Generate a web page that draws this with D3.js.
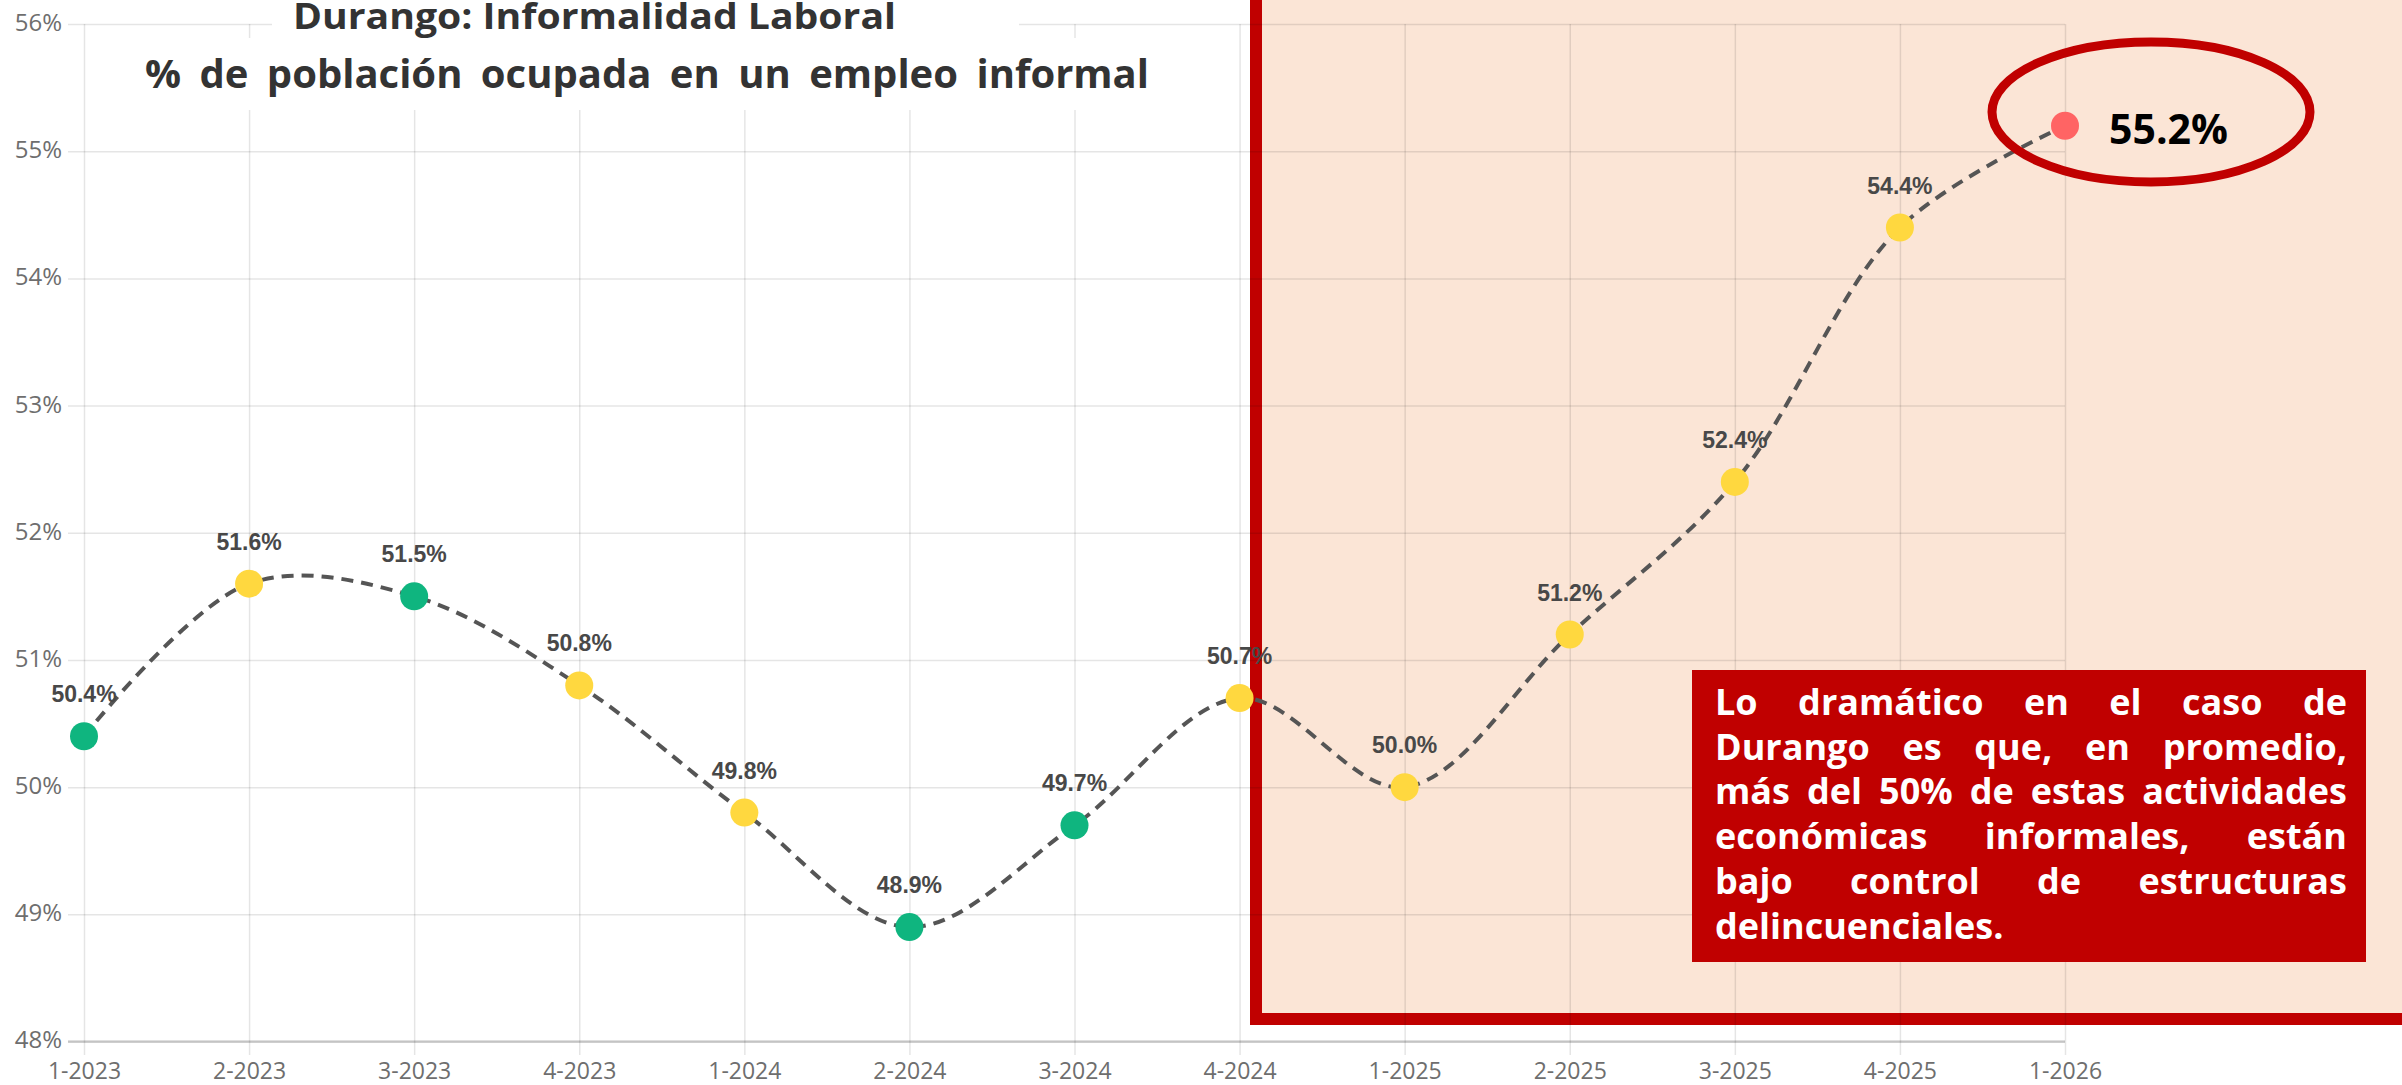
<!DOCTYPE html>
<html lang="es">
<head>
<meta charset="utf-8">
<title>Durango: Informalidad Laboral</title>
<script src="https://cdn.jsdelivr.net/npm/d3@7"></script>
<style>
  html, body { margin: 0; padding: 0; background: #fff; }
  svg { display: block; }
  .tick text { font-family: "Open Sans", sans-serif; font-size: 24px; fill: #6e6e6e; }
  .ejex .tick text { font-size: 23px; }
  .etiqueta { font-family: "Liberation Sans", Arial, sans-serif; font-weight: bold; font-size: 23px; fill: #484848; }
  .titulo { font-family: "Open Sans", sans-serif; font-weight: bold; font-size: 36px; fill: #333; }
  .subtitulo { font-size: 40px; }
  .nota { font-family: "Open Sans", sans-serif; font-weight: bold; font-size: 36px; fill: #fff; }
</style>
</head>
<body>
<div id="chart"></div>
<script>
// Trimestres y % de población ocupada en un empleo informal (Durango)
const trimestres = ["1-2023", "2-2023", "3-2023", "4-2023", "1-2024", "2-2024", "3-2024",
                    "4-2024", "1-2025", "2-2025", "3-2025", "4-2025", "1-2026"];
const informalidad = [50.4, 51.6, 51.5, 50.8, 49.8, 48.9, 49.7, 50.7, 50.0, 51.2, 52.4, 54.4, 55.2];
const grupo = ["verde", "amarillo", "verde", "amarillo", "amarillo", "verde", "verde",
               "amarillo", "amarillo", "amarillo", "amarillo", "amarillo", "rojo"];
const ticksY = [48, 49, 50, 51, 52, 53, 54, 55, 56];

const titulo = ["Durango: Informalidad Laboral", "% de población ocupada en un empleo informal"];
const notaLineas = [
    "Lo dramático en el caso de",
    "Durango es que, en promedio,",
    "más del 50% de estas actividades",
    "económicas informales, están",
    "bajo control de estructuras",
    "delincuenciales."
];

const W = 2402, H = 1085;
const rojo = "#C00000", rosa = "#FBE5D6";

const svg = d3.select("#chart").append("svg")
    .attr("width", W)
    .attr("height", H);

svg.append("rect").attr("width", W).attr("height", H).attr("fill", "#fff");

const x = d3.scalePoint().domain(trimestres).range([84, 2065]);
const y = d3.scaleLinear().domain([48, 56]).range([1041.5, 24]);
const color = d3.scaleOrdinal()
    .domain(["verde", "amarillo", "rojo"])
    .range(["#0FB57F", "#FFD83F", "#FF6464"]);

// recuadro rosa con borde rojo (queda debajo de la gráfica)
svg.append("rect")
    .attr("x", 1256).attr("y", -40)
    .attr("width", 1400).attr("height", 1019 + 40)
    .attr("fill", rosa)
    .attr("stroke", rojo)
    .attr("stroke-width", 12);

// rejilla horizontal + etiquetas del eje y
const ejeY = svg.append("g")
    .attr("transform", `translate(${x.range()[1]},0)`)
    .call(d3.axisLeft(y)
        .tickValues(ticksY)
        .tickFormat(d => d + "%")
        .tickSize(x.range()[1] - 68)
        .tickPadding(6));
ejeY.select(".domain").remove();
ejeY.selectAll(".tick line").attr("stroke", "rgba(0,0,0,0.1)").attr("stroke-width", 1.5);
ejeY.selectAll(".tick text").attr("dy", "0.27em");

// rejilla vertical + etiquetas del eje x
const ejeX = svg.append("g")
    .attr("class", "ejex")
    .attr("transform", `translate(0,${y(56)})`)
    .call(d3.axisBottom(x)
        .tickSize(1055 - y(56))
        .tickPadding(8));
ejeX.select(".domain").remove();
ejeX.selectAll(".tick line").attr("stroke", "rgba(0,0,0,0.1)").attr("stroke-width", 1.5);

// línea base del eje x
svg.append("line")
    .attr("x1", 68).attr("x2", x.range()[1])
    .attr("y1", y(48)).attr("y2", y(48))
    .attr("stroke", "rgba(0,0,0,0.17)")
    .attr("stroke-width", 2.5);

const datos = trimestres.map((t, i) => ({ t: t, v: informalidad[i], g: grupo[i] }));

// línea punteada suavizada
const linea = d3.line()
    .x(d => x(d.t))
    .y(d => y(d.v))
    .curve(d3.curveCatmullRom.alpha(0.5));

svg.append("path")
    .datum(datos)
    .attr("d", linea)
    .attr("fill", "none")
    .attr("stroke", "#555")
    .attr("stroke-width", 4)
    .attr("stroke-dasharray", "12,8");

svg.selectAll("circle.punto")
    .data(datos)
    .enter().append("circle")
    .attr("class", "punto")
    .attr("cx", d => x(d.t))
    .attr("cy", d => y(d.v))
    .attr("r", 14)
    .attr("fill", d => color(d.g));

// etiquetas de valor (la última va aparte, en grande)
svg.selectAll("text.etiqueta")
    .data(datos.slice(0, -1))
    .enter().append("text")
    .attr("class", "etiqueta")
    .attr("x", d => x(d.t))
    .attr("y", d => y(d.v) - 34)
    .attr("text-anchor", "middle")
    .text(d => d.v.toFixed(1) + "%");

// título sobre fondo blanco
svg.append("rect").attr("x", 272).attr("y", 0).attr("width", 747).attr("height", 40).attr("fill", "#fff");
svg.append("rect").attr("x", 130).attr("y", 38).attr("width", 1030).attr("height", 72).attr("fill", "#fff");
svg.append("text").attr("class", "titulo")
    .attr("x", 293).attr("y", 29)
    .attr("textLength", 603).attr("lengthAdjust", "spacingAndGlyphs")
    .text(titulo[0]);
const sub = svg.append("text").attr("class", "titulo subtitulo")
    .attr("x", 145).attr("y", 88)
    .text(titulo[1]);
// el sobrante de ancho se reparte entre las palabras
const natSub = sub.node().getComputedTextLength();
const espacios = titulo[1].split(" ").length - 1;
sub.style("word-spacing", ((1004 - natSub) / espacios) + "px");

// óvalo y valor del último trimestre
const ultimo = datos[datos.length - 1];
svg.append("ellipse")
    .attr("cx", 2151).attr("cy", 112)
    .attr("rx", 159).attr("ry", 70)
    .attr("fill", "none")
    .attr("stroke", rojo)
    .attr("stroke-width", 9);
svg.append("text")
    .attr("x", x(ultimo.t) + 44).attr("y", y(ultimo.v) + 4 + 14)
    .style("font-family", "'Open Sans', sans-serif")
    .style("font-weight", "bold")
    .style("font-size", "41px")
    .attr("fill", "#000")
    .text(ultimo.v.toFixed(1) + "%");

// recuadro de texto justificado
svg.append("rect")
    .attr("x", 1692).attr("y", 670)
    .attr("width", 674).attr("height", 292)
    .attr("fill", rojo);

function notaJustificada(g, lineas, x0, ancho, y0, paso) {
    const naturales = lineas.map(l => {
        const t = g.append("text").attr("class", "nota").text(l);
        const w = t.node().getComputedTextLength();
        t.remove();
        return w;
    });
    const sx = Math.min(1, ancho / d3.max(naturales));
    const anchoInterno = ancho / sx;
    const cuerpo = g.append("g").attr("transform", `translate(${x0},0) scale(${sx},1)`);
    lineas.forEach((l, i) => {
        const yy = y0 + i * paso;
        if (i === lineas.length - 1) {
            cuerpo.append("text").attr("class", "nota").attr("x", 0).attr("y", yy).text(l);
            return;
        }
        const palabras = l.split(" ");
        const nodos = palabras.map(p => cuerpo.append("text").attr("class", "nota").attr("y", yy).text(p));
        const anchos = nodos.map(n => n.node().getComputedTextLength());
        const libre = (anchoInterno - d3.sum(anchos)) / (palabras.length - 1);
        let xx = 0;
        nodos.forEach((n, j) => { n.attr("x", xx); xx += anchos[j] + libre; });
    });
}

notaJustificada(svg.append("g"), notaLineas, 1715, 632, 715, 44.7);
</script>
</body>
</html>
